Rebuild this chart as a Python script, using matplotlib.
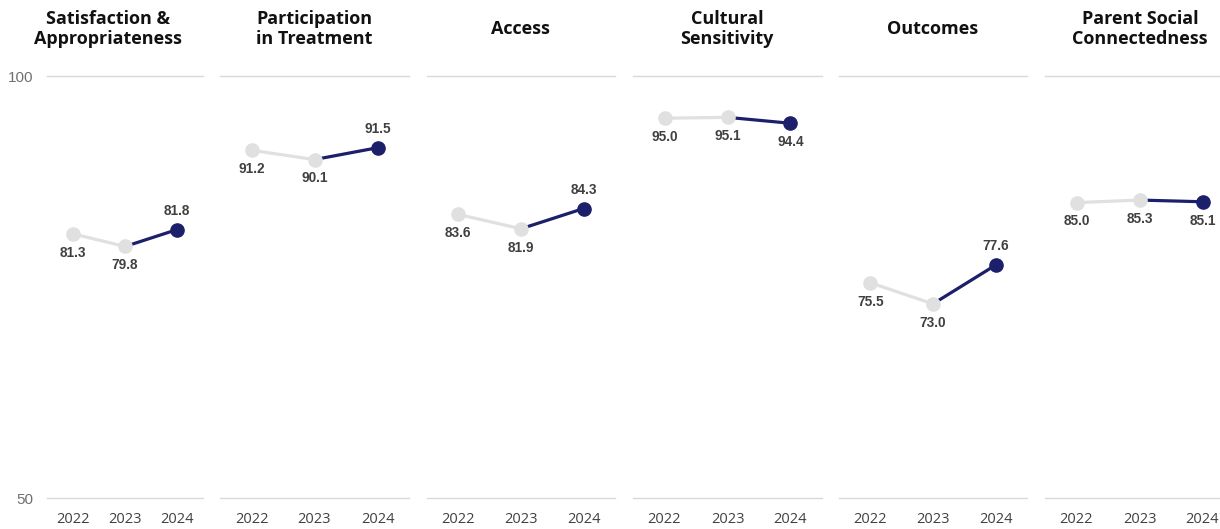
import matplotlib
matplotlib.use("Agg")
import matplotlib.pyplot as plt

titles = ["Satisfaction &\nAppropriateness", "Participation\nin Treatment", "Access",
          "Cultural\nSensitivity", "Outcomes", "Parent Social\nConnectedness"]
years = ["2022", "2023", "2024"]
values = [
    [81.3, 79.8, 81.8],
    [91.2, 90.1, 91.5],
    [83.6, 81.9, 84.3],
    [95.0, 95.1, 94.4],
    [75.5, 73.0, 77.6],
    [85.0, 85.3, 85.1],
]

W, H = 1220, 529
light = "#e0e0e0"
navy = "#1c1f6a"
grid_c = "#d9d9d9"

# panel extents in pixels (left, right) and title centres
panels = [(47, 203), (220, 409), (427, 615), (633, 822), (839, 1027), (1045, 1234)]
title_x = [108, 314, 520, 727, 933, 1140]
top_px, bot_px = 76, 498

fig = plt.figure(figsize=(W / 100, H / 100), dpi=100)

for i, (t, vals) in enumerate(zip(titles, values)):
    l, r = panels[i]
    ax = fig.add_axes([l / W, 1 - bot_px / H, (r - l) / W, (bot_px - top_px) / H])
    ax.set_xlim(-0.5, 2.5)
    ax.set_ylim(50, 100)
    for s in ax.spines.values():
        s.set_visible(False)
    for y in (50, 100):
        ax.axhline(y, color=grid_c, lw=1, clip_on=False, zorder=0)
    x = list(range(len(years)))
    ax.plot(x[:2], vals[:2], color=light, lw=2.3, zorder=2)
    ax.plot(x[1:], vals[1:], color=navy, lw=2.3, zorder=2)
    ax.plot(x[:2], vals[:2], "o", color=light, ms=9.5, zorder=3)
    ax.plot(x[2], vals[2], "o", color=navy, ms=9.5, zorder=3)
    for j, v in enumerate(vals):
        above = j == 2 and v > vals[1]
        ax.annotate(f"{v:.1f}", (j, v), xytext=(0, 13.5 if above else -13.5),
                    textcoords="offset points", ha="center", va="center",
                    fontsize=9.8, fontweight="bold", color="#404040",
                    family="Liberation Sans")
    ax.set_xticks(x)
    ax.set_xticklabels(years, fontsize=10.5, color="#404040", family="Open Sans")
    ax.tick_params(axis="x", length=0, pad=10)
    if i == 0:
        ax.set_yticks([50, 100])
        ax.set_yticklabels(["50", "100"], fontsize=11, color="#707070", family="Liberation Sans")
        ax.tick_params(axis="y", length=0, pad=10)
    else:
        ax.set_yticks([])
    fig.text(title_x[i] / W, 1 - 29 / H, t, ha="center", va="center", fontsize=13,
             fontweight="bold", color="#111111", family="Open Sans", linespacing=1.12)

fig.savefig("out.png", dpi=100)
